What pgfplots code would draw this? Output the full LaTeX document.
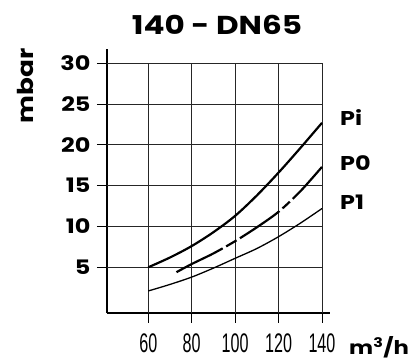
\documentclass[border=0pt]{standalone}
\usepackage{fontspec}
\setmainfont{Poppins}[FakeStretch=1.2]
\newfontfamily\narrowfont{Liberation Sans}[FakeStretch=0.6]
\usepackage{pgfplots}
\pgfplotsset{compat=1.18}

\begin{document}
\begin{tikzpicture}
\path[use as bounding box] (-107bp,-49bp) rectangle (309bp,313bp);
\begin{axis}[
  at={(0,0)}, anchor=south west,
  scale only axis, width=223bp, height=264bp,
  xmin=41, xmax=143.7, ymin=-0.6, ymax=31.75,
  axis lines=left, axis line style={-, line width=1.8pt},
  clip=false,
  xtick={60,80,100,120,140}, xticklabels={60,80,100,120,140},
  ytick={5,10,15,20,25,30}, yticklabels={5,10,15,20,25,30},
  tick style={black, line width=0.9pt}, tick align=outside,
  major tick length=10bp,
  xticklabel style={font=\narrowfont\fontsize{27}{27}\selectfont, yshift=-7bp},
  yticklabel style={font=\bfseries\fontsize{20}{20}\selectfont, xshift=-3bp},
  /pgf/number format/assume math mode=true,
]
\pgfplotsinvokeforeach{60,80,100,120,140}{
  \draw[line width=0.9pt, black!85] (axis cs:#1,-0.6) -- (axis cs:#1,30);
}
\pgfplotsinvokeforeach{5,10,15,20,25,30}{
  \draw[line width=0.9pt, black!85] (axis cs:41,#1) -- (axis cs:140,#1);
}
\addplot[black, line width=2.2pt, smooth] coordinates {
  (60,5.0) (70,6.2) (80,7.6) (90,9.3) (100,11.3) (110,13.8) (120,16.6) (130,19.6) (140,22.7)
};
\addplot[black, line width=2.2pt, smooth, dash pattern=on 52bp off 4bp on 12bp off 4bp on 48bp off 4bp on 10bp off 4bp on 80bp off 4bp] coordinates {
  (73,4.4) (80,5.4) (90,6.7) (100,8.2) (110,9.9) (120,11.8) (130,14.3) (140,17.3)
};
\addplot[black, line width=1.3pt, smooth] coordinates {
  (60,2.1) (70,2.9) (80,3.8) (90,4.9) (100,6.1) (110,7.3) (120,8.75) (130,10.4) (140,12.2)
};
\end{axis}
\node[font=\bfseries\fontsize{26}{26}\selectfont] at (110bp,288bp) {140 - DN65};
\node[font=\bfseries\fontsize{22}{22}\selectfont, rotate=90] at (-82bp,227bp) {mbar};
\node[font=\bfseries\fontsize{19}{19}\selectfont, anchor=base west, inner sep=0pt] at (242bp,-41bp) {m\textsuperscript{3}/h};
\node[font=\bfseries\fontsize{20}{20}\selectfont, anchor=west, inner sep=0pt] at (233bp,195bp) {Pi};
\node[font=\bfseries\fontsize{20}{20}\selectfont, anchor=west, inner sep=0pt] at (233bp,150bp) {P0};
\node[font=\bfseries\fontsize{20}{20}\selectfont, anchor=west, inner sep=0pt] at (233bp,111bp) {P1};
\end{tikzpicture}
\end{document}
